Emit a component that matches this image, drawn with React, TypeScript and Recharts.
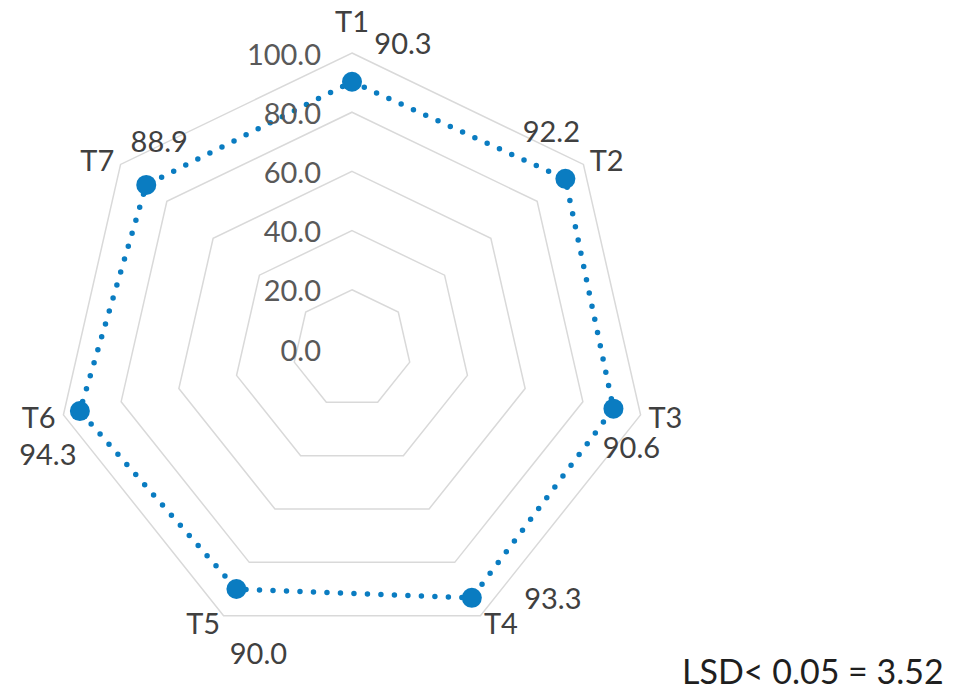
import React from "react"
import { RadarChart, Radar, PolarGrid, PolarAngleAxis, PolarRadiusAxis } from "recharts"

const treatments = ["T1", "T2", "T3", "T4", "T5", "T6", "T7"]
const scores = [90.3, 92.2, 90.6, 93.3, 90.0, 94.3, 88.9]
const radiusTicks = [0, 20, 40, 60, 80, 100]

// where each value label sits relative to its dot
const labelOffsets: [number, number][] = [
  [51, -39],
  [-14, -48],
  [18, 38],
  [81, 0],
  [22, 63],
  [-32, 42],
  [13, -44],
]

const data = treatments.map((name, i) => ({ name, score: scores[i] }))

const BLUE = "#0a7cc1"
const FONT = "Lato, 'Open Sans', sans-serif"

const AngleTick = (props: any) => {
  const { x, y, textAnchor, payload } = props
  const dy = textAnchor === "middle" ? -25 : 0
  return (
    <text
      x={x}
      y={y + dy}
      textAnchor={textAnchor}
      dominantBaseline="central"
      fill="#404040"
      fontSize={29}
      fontFamily={FONT}
    >
      {payload.value}
    </text>
  )
}

const RadiusTick = (props: any) => {
  const { x, y, payload } = props
  return (
    <text
      x={x - 31}
      y={y}
      textAnchor="end"
      dominantBaseline="central"
      fill="#595959"
      fontSize={29}
      fontFamily={FONT}
    >
      {Number(payload.value).toFixed(1)}
    </text>
  )
}

const ScoreDot = (props: any) => {
  const { cx, cy, index } = props
  if (cx == null || cy == null) return null
  const [dx, dy] = labelOffsets[index] ?? [0, 0]
  return (
    <g key={`dot-${index}`}>
      <circle cx={cx} cy={cy} r={10} fill={BLUE} stroke="none" />
      <text
        x={cx + dx}
        y={cy + dy}
        textAnchor="middle"
        dominantBaseline="central"
        fill="#404040"
        fontSize={29}
        fontFamily={FONT}
      >
        {scores[index].toFixed(1)}
      </text>
    </g>
  )
}

export default function App() {
  return (
    <div style={{ position: "absolute", left: 0, top: 0, width: 957, height: 695, background: "#fff" }}>
      <RadarChart
        width={957}
        height={695}
        data={data}
        cx={352}
        cy={349}
        outerRadius={296}
        margin={{ top: 0, right: 0, bottom: 0, left: 0 }}
      >
        <PolarGrid gridType="polygon" radialLines={false} stroke="#d9d9d9" strokeWidth={1.5} />
        <PolarAngleAxis dataKey="name" axisLine={false} tickLine={false} tick={<AngleTick />} />
        <PolarRadiusAxis
          angle={90}
          domain={[0, 100]}
          ticks={radiusTicks}
          tickCount={6}
          axisLine={false}
          tickLine={false}
          tick={<RadiusTick />}
        />
        <Radar
          dataKey="score"
          stroke={BLUE}
          strokeWidth={5.5}
          strokeDasharray="0 13.5"
          strokeLinecap="round"
          fill="none"
          fillOpacity={0}
          dot={<ScoreDot />}
          isAnimationActive={false}
        />
      </RadarChart>
      <div
        style={{
          position: "absolute",
          left: 682,
          top: 650,
          fontFamily: FONT,
          fontSize: 34,
          color: "#1f1f1f",
          whiteSpace: "nowrap",
          lineHeight: "42px",
        }}
      >
        LSD&lt; 0.05 = 3.52
      </div>
    </div>
  )
}
